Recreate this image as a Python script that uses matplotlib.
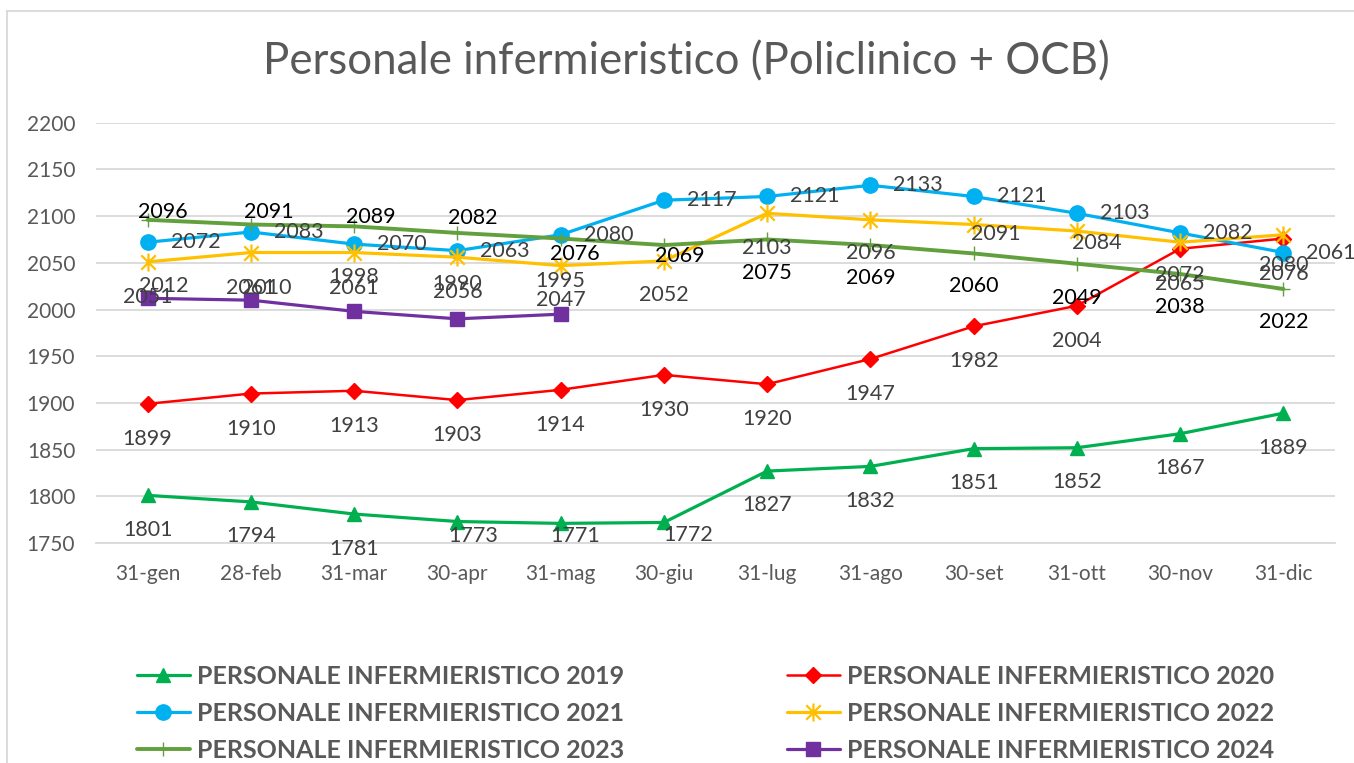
import matplotlib
matplotlib.use("Agg")
import matplotlib.pyplot as plt
from matplotlib.path import Path
from matplotlib.lines import Line2D

plt.rcParams['font.family'] = ['Lato', 'DejaVu Sans']

# ---------------- data ----------------
months = ["31-gen", "28-feb", "31-mar", "30-apr", "31-mag", "30-giu",
          "31-lug", "31-ago", "30-set", "31-ott", "30-nov", "31-dic"]
y2019 = [1801, 1794, 1781, 1773, 1771, 1772, 1827, 1832, 1851, 1852, 1867, 1889]
y2020 = [1899, 1910, 1913, 1903, 1914, 1930, 1920, 1947, 1982, 2004, 2065, 2076]
y2021 = [2072, 2083, 2070, 2063, 2080, 2117, 2121, 2133, 2121, 2103, 2082, 2061]
y2022 = [2051, 2061, 2061, 2056, 2047, 2052, 2103, 2096, 2091, 2084, 2072, 2080]
y2023 = [2096, 2091, 2089, 2082, 2076, 2069, 2075, 2069, 2060, 2049, 2038, 2022]
y2024 = [2012, 2010, 1998, 1990, 1995]
names = ["PERSONALE INFERMIERISTICO 2019", "PERSONALE INFERMIERISTICO 2020",
         "PERSONALE INFERMIERISTICO 2021", "PERSONALE INFERMIERISTICO 2022",
         "PERSONALE INFERMIERISTICO 2023", "PERSONALE INFERMIERISTICO 2024"]
yticks = [1750, 1800, 1850, 1900, 1950, 2000, 2050, 2100, 2150, 2200]
title = "Personale infermieristico (Policlinico + OCB)"

# ---------------- style ----------------
W, H = 1354, 763
fig = plt.figure(figsize=(W / 100, H / 100), dpi=100)
ax = fig.add_axes([96 / W, 1 - 543 / H, (1335 - 96) / W, (543 - 122.7) / H])

star = Path([(0, -1), (0, 1), (-0.8, -0.8), (0.8, 0.8), (-0.8, 0.8), (0.8, -0.8)],
            [Path.MOVETO, Path.LINETO, Path.MOVETO, Path.LINETO, Path.MOVETO, Path.LINETO])

series = [
    dict(y=y2019, color="#00B050", marker="^", ms=10, lw=2.3, mew=1, mfc=None),
    dict(y=y2020, color="#FF0000", marker="D", ms=8, lw=1.8, mew=1, mfc=None),
    dict(y=y2021, color="#00B0F0", marker="o", ms=11, lw=2.3, mew=1, mfc=None),
    dict(y=y2022, color="#FFC000", marker=star, ms=13, lw=2.3, mew=1.6, mfc="none"),
    dict(y=y2023, color="#62A03E", marker="+", ms=10, lw=2.8, mew=1, mfc=None),
    dict(y=y2024, color="#7030A0", marker="s", ms=10.5, lw=2.3, mew=1, mfc=None),
]

# label offsets in screen pixels (dx right, dy down)
below = (0, 35)
offsets = [
    [below, (0, 34), below, (16, 14), (15, 13), (24, 13), (0, 34), below, (0, 34), (0, 34), (0, 34), below],
    [below] * 12,
    [(23, 0)] * 12,
    [below, below, below, below, (0, 34), (0, 34), below, (0, 33), (22, 9), (20, 12), (0, 33), (0, 30)],
    [(15, -8), (18, -13), (17, -9), (15, -15), (14, 15), (16, 11), (0, 34), (0, 33), (0, 33), (0, 34), (0, 33), (0, 33)],
    [(16, -12), (16, -12), (0, -34), (0, -35), (0, -33)],
]
label_colors = ["#404040", "#404040", "#404040", "#404040", "#000000", "#404040"]

handles = []
for s, offs, lc in zip(series, offsets, label_colors):
    x = list(range(len(s["y"])))
    kw = dict(color=s["color"], marker=s["marker"], markersize=s["ms"], lw=s["lw"],
              markeredgewidth=s["mew"], markeredgecolor=s["color"])
    kw["markerfacecolor"] = s["color"] if s["mfc"] is None else s["mfc"]
    h, = ax.plot(x, s["y"], solid_capstyle="round", zorder=3, **kw)
    handles.append(h)
    for xi, yi, (dx, dy) in zip(x, s["y"], offs):
        ha = "left" if dx == 23 else "center"
        ax.annotate(str(yi), (xi, yi), xytext=(dx, -dy), textcoords="offset pixels",
                    ha=ha, va="center", fontsize=15.5, color=lc, zorder=5)

ax.set_xlim(-0.5, 11.5)
ax.set_ylim(1750, 2200)
ax.set_yticks(yticks)
ax.set_xticks(range(len(months)))
ax.set_xticklabels(months)
ax.grid(axis="y", color="#D9D9D9", lw=1.3)
ax.set_axisbelow(True)
for sp in ["top", "right", "left"]:
    ax.spines[sp].set_visible(False)
ax.spines["bottom"].set_color("#D9D9D9")
ax.spines["bottom"].set_linewidth(1.3)
ax.tick_params(axis="both", length=0, labelsize=15, labelcolor="#595959")
ax.tick_params(axis="x", pad=15)
ax.tick_params(axis="y", pad=15)

fig.text(686 / W, 1 - 62 / H, title, ha="center", va="center", fontsize=31.5, color="#595959")

# outer chart border (partially visible)
fig.add_artist(Line2D([7 / W, 7 / W], [0, 1 - 11 / H], color="#D9D9D9", lw=1.3, transform=fig.transFigure))
fig.add_artist(Line2D([7 / W, 1], [1 - 11 / H, 1 - 11 / H], color="#D9D9D9", lw=1.3, transform=fig.transFigure))

leg_kw = dict(frameon=False, handlelength=2.1, handletextpad=0.3,
              labelspacing=0.55, borderpad=0, borderaxespad=0,
              prop=dict(family="Lato", weight="bold", size=18))
leg1 = fig.legend([handles[0], handles[2], handles[4]], [names[0], names[2], names[4]],
                  loc="upper left", bbox_to_anchor=(137 / W, 1 - 665 / H), **leg_kw)
leg2 = fig.legend([handles[1], handles[3], handles[5]], [names[1], names[3], names[5]],
                  loc="upper left", bbox_to_anchor=(787 / W, 1 - 665 / H), **leg_kw)
for lg in (leg1, leg2):
    for t in lg.get_texts():
        t.set_color("#595959")

fig.savefig("out.png", dpi=100)
